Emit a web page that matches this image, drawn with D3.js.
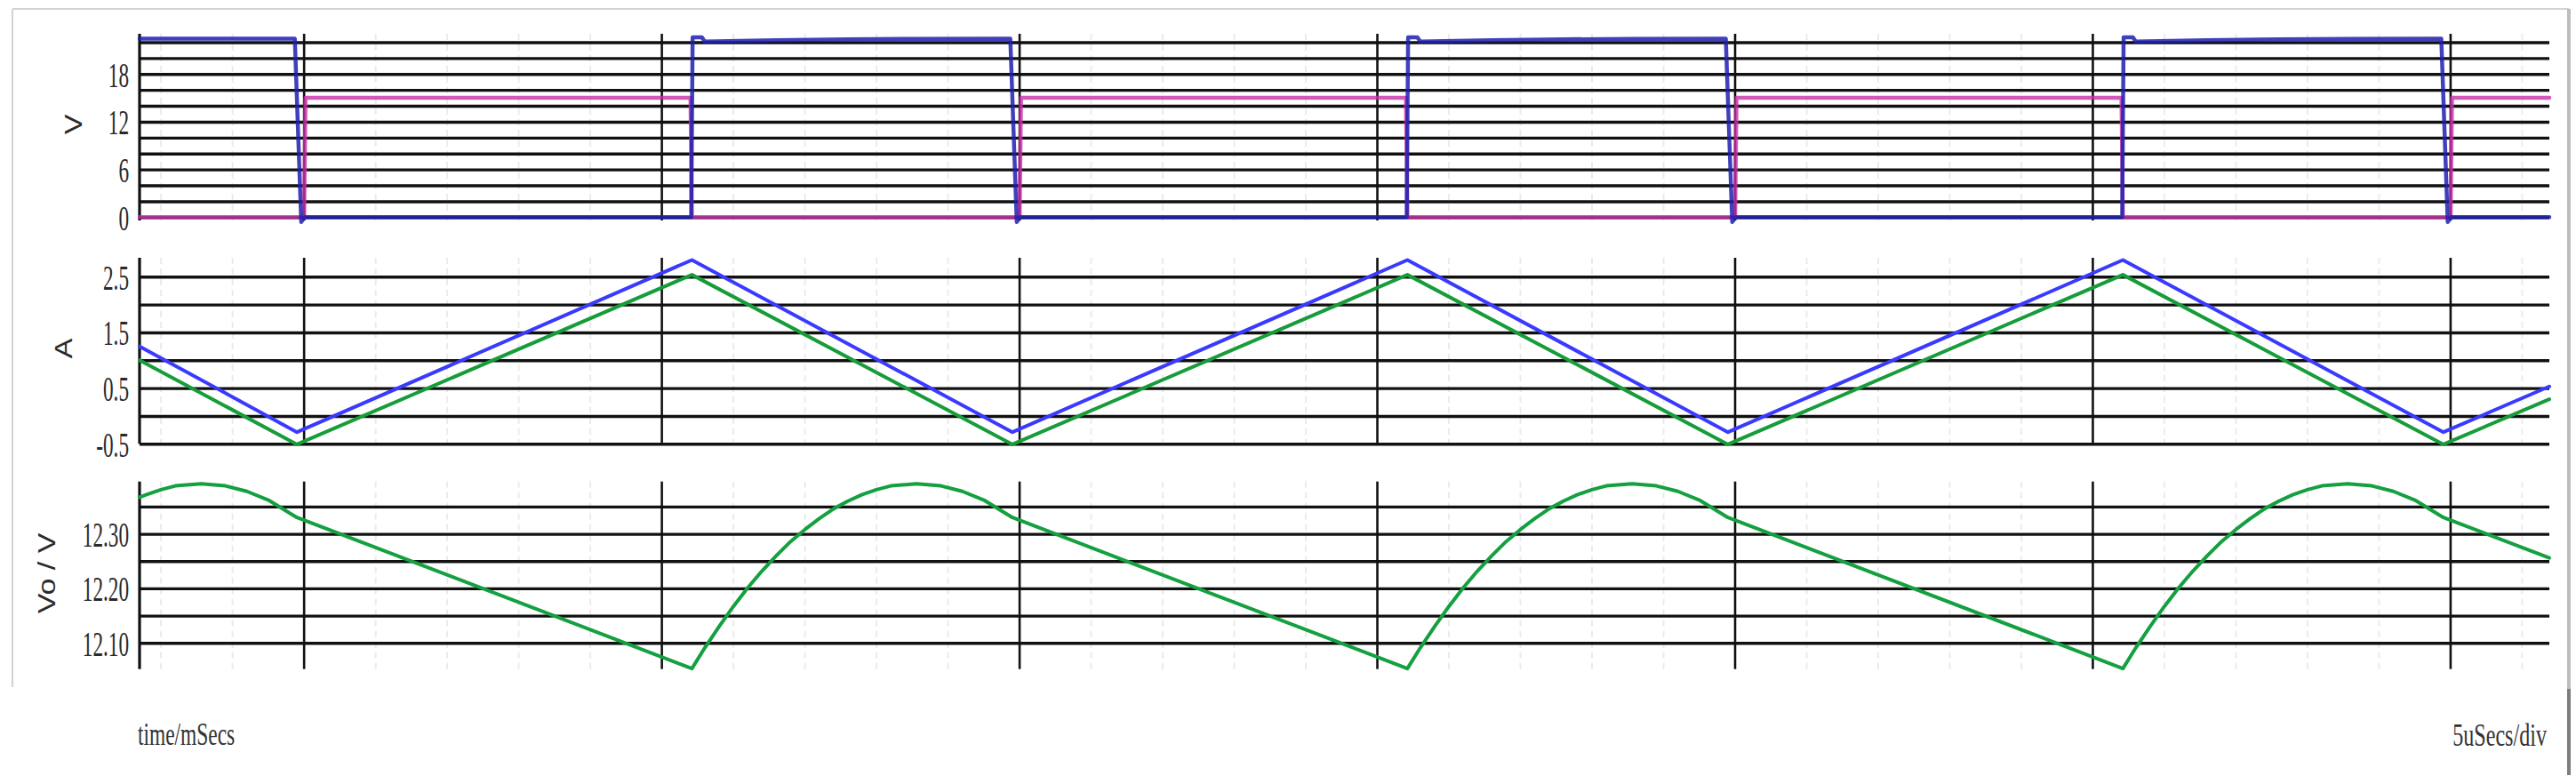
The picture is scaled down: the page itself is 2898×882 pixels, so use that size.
<!DOCTYPE html>
<html><head><meta charset="utf-8">
<script src="https://cdn.jsdelivr.net/npm/d3@7"></script>
<style>html,body{margin:0;padding:0;background:#fff;overflow:hidden} svg{display:block}</style>
</head><body>
<svg id="c" width="2898" height="882"></svg>
<script>
// ---------- data (time in microseconds) ----------
const timeStart = 3.5, timeEnd = 171.9;
const majorTimes = [15, 40, 65, 90, 115, 140, 165];
const minorTimes = [5, 10, 20, 25, 30, 35, 45, 50, 55, 60, 70, 75, 80, 85, 95, 100, 105, 110, 120, 125, 130, 135, 145, 150, 155, 160, 170];

// panel 1: voltages (V)
const vGrid = [0, 2, 4, 6, 8, 10, 12, 14, 16, 18, 20, 22];
const vLabels = [0, 6, 12, 18];
const vSwTime = [3.5, 14.35, 14.8, 15.05,
  42.05, 42.15, 42.8, 43.0, 48, 53, 58, 64.35, 64.8, 65.05,
  92.05, 92.15, 92.8, 93.0, 98, 103, 108, 114.35, 114.8, 115.05,
  142.05, 142.15, 142.8, 143.0, 148, 153, 158, 164.35, 164.8, 165.05,
  171.9];
const vSwValue = [22.45, 22.45, -0.6, 0,
  0, 22.6, 22.6, 22.08, 22.25, 22.36, 22.42, 22.45, -0.6, 0,
  0, 22.6, 22.6, 22.08, 22.25, 22.36, 22.42, 22.45, -0.6, 0,
  0, 22.6, 22.6, 22.08, 22.25, 22.36, 22.42, 22.45, -0.6, 0,
  0];
const vDTime = [3.5, 15.0, 15.1, 42.0, 42.1, 65.0, 65.1, 92.0, 92.1, 115.0, 115.1, 142.0, 142.1, 165.0, 165.1, 171.9];
const vDValue = [0, 0, 15.0, 15.0, 0, 0, 15.0, 15.0, 0, 0, 15.0, 15.0, 0, 0, 15.0, 15.0];

// panel 2: currents (A)
const iGrid = [-0.5, 0, 0.5, 1, 1.5, 2, 2.5];
const iLabels = [-0.5, 0.5, 1.5, 2.5];
const iTime = [3.5, 14.5, 42.1, 64.5, 92.1, 114.5, 142.1, 164.5, 171.9];
const iBlue = [1.25, -0.29, 2.80, -0.29, 2.80, -0.29, 2.80, -0.29, 0.53];
const iGreen = [1.0, -0.51, 2.535, -0.51, 2.535, -0.51, 2.535, -0.51, 0.30];

// panel 3: output voltage (V)
const voGrid = [12.10, 12.15, 12.20, 12.25, 12.30, 12.35];
const voLabels = [12.10, 12.20, 12.30];
const voTime = [3.5, 4, 5, 6, 7.8, 9.5, 11, 12.5, 14.5,
  42.1, 43, 44, 45, 46, 47, 48, 49, 50, 51, 52, 53, 54, 55, 56, 57.8, 59.5, 61, 62.5, 64.5,
  92.1, 93, 94, 95, 96, 97, 98, 99, 100, 101, 102, 103, 104, 105, 106, 107.8, 109.5, 111, 112.5, 114.5,
  142.1, 143, 144, 145, 146, 147, 148, 149, 150, 151, 152, 153, 154, 155, 156, 157.8, 159.5, 161, 162.5, 164.5,
  171.9];
const voValue = [12.367, 12.372, 12.381, 12.388, 12.392, 12.388, 12.378, 12.362, 12.330,
  12.053, 12.091, 12.130, 12.167, 12.201, 12.232, 12.260, 12.286, 12.308, 12.328, 12.346, 12.360, 12.372, 12.381, 12.388, 12.392, 12.388, 12.378, 12.362, 12.330,
  12.053, 12.091, 12.130, 12.167, 12.201, 12.232, 12.260, 12.286, 12.308, 12.328, 12.346, 12.360, 12.372, 12.381, 12.388, 12.392, 12.388, 12.378, 12.362, 12.330,
  12.053, 12.091, 12.130, 12.167, 12.201, 12.232, 12.260, 12.286, 12.308, 12.328, 12.346, 12.360, 12.372, 12.381, 12.388, 12.392, 12.388, 12.378, 12.362, 12.330,
  12.256];

const xLabelLeft = "time/mSecs";
const xLabelRight = "5uSecs/div";

// ---------- layout ----------
const svg = d3.select("#c");
const X0 = 157, X1 = 2868;
const x = d3.scaleLinear().domain([timeStart, timeEnd]).range([X0, X1]);

// frame
svg.append("line").attr("x1", 14).attr("x2", 2890).attr("y1", 10).attr("y2", 10).attr("stroke", "#d2d2d2").attr("stroke-width", 2);
svg.append("line").attr("x1", 14).attr("x2", 14).attr("y1", 10).attr("y2", 773).attr("stroke", "#d2d2d2").attr("stroke-width", 2);
svg.append("line").attr("x1", 2890).attr("x2", 2890).attr("y1", 10).attr("y2", 775).attr("stroke", "#bdbdbd").attr("stroke-width", 4);
svg.append("line").attr("x1", 2890).attr("x2", 2890).attr("y1", 775).attr("y2", 872).attr("stroke", "#7d7d7d").attr("stroke-width", 4);

const panels = [
  { top: 38, bottom: 248, domain: [-0.41, 23.06], grid: vGrid, labels: vLabels, fmt: d => d3.format("d")(d),
    title: "V", tx: 82, ty: 140 },
  { top: 290, bottom: 499.3, domain: [-0.5, 2.84], grid: iGrid, labels: iLabels, fmt: d => (d < 0 ? "-" : "") + d3.format(".1f")(Math.abs(d)),
    title: "A", tx: 71, ty: 392 },
  { top: 541.7, bottom: 752.7, domain: [12.052, 12.396], grid: voGrid, labels: voLabels, fmt: d => d3.format(".2f")(d),
    title: "Vo / V", tx: 52, ty: 645 }
];

panels.forEach(p => {
  p.y = d3.scaleLinear().domain(p.domain).range([p.bottom, p.top]);
  const g = svg.append("g");
  // minor dashed vertical grid
  g.selectAll("line.minor").data(minorTimes).join("line").attr("class", "minor")
    .attr("x1", d => x(d)).attr("x2", d => x(d)).attr("y1", p.top).attr("y2", p.bottom)
    .attr("stroke", "#ebebeb").attr("stroke-width", 2).attr("stroke-dasharray", "7 5");
  // horizontal grid via axis
  const ga = g.append("g").attr("transform", `translate(${X0},0)`)
    .call(d3.axisLeft(p.y).tickValues(p.grid).tickSize(-(X1 - X0)).tickFormat(""));
  ga.select(".domain").remove();
  ga.selectAll(".tick line").attr("stroke", "#111").attr("stroke-width", 3.4);
  // major vertical lines
  g.selectAll("line.major").data(majorTimes).join("line").attr("class", "major")
    .attr("x1", d => x(d)).attr("x2", d => x(d)).attr("y1", p.top).attr("y2", p.bottom)
    .attr("stroke", "#111").attr("stroke-width", 2.6);
  // left axis line
  g.append("line").attr("x1", X0).attr("x2", X0).attr("y1", p.top).attr("y2", p.bottom)
    .attr("stroke", "#111").attr("stroke-width", 3.2);
  // tick labels
  g.selectAll("text.tl").data(p.labels).join("text").attr("class", "tl")
    .attr("transform", d => `translate(145,${p.y(d)}) scale(0.58,1)`)
    .attr("text-anchor", "end").attr("dy", "0.36em")
    .style("font-family", "'Liberation Serif', 'DejaVu Serif', serif").style("font-size", "40px")
    .attr("fill", "#2a2a2a").text(p.fmt);
  // axis title
  g.append("text").attr("transform", `translate(${p.tx},${p.ty}) scale(0.82,1) rotate(-90)`)
    .attr("text-anchor", "middle").attr("dy", "0.35em")
    .style("font-family", "'Liberation Sans', Arial, sans-serif").style("font-size", "34px")
    .attr("fill", "#2a2a2a").text(p.title);
});

function drawTrace(p, times, values, color, width, opacity) {
  const line = d3.line().x(d => x(d[0])).y(d => p.y(d[1])).curve(d3.curveLinear);
  svg.append("path").datum(d3.zip(times, values)).attr("d", line)
    .attr("fill", "none").attr("stroke", color).attr("stroke-width", width)
    .attr("stroke-opacity", opacity).attr("stroke-linejoin", "round").attr("stroke-linecap", "round");
}

drawTrace(panels[0], vDTime, vDValue, "#c82ea8", 4.5, 0.8);
drawTrace(panels[0], vSwTime, vSwValue, "#1e1eb0", 4.5, 0.85);
drawTrace(panels[1], iTime, iGreen, "#179c3a", 4, 1);
drawTrace(panels[1], iTime, iBlue, "#3a3aff", 4, 1);
drawTrace(panels[2], voTime, voValue, "#14a040", 4, 1);

// bottom labels
svg.append("text").attr("transform", "translate(155,838) scale(0.65,1)")
  .attr("text-anchor", "start")
  .style("font-family", "'Liberation Serif', serif").style("font-size", "36px")
  .attr("fill", "#333").text(xLabelLeft);
svg.append("text").attr("transform", "translate(2865,839) scale(0.67,1)")
  .attr("text-anchor", "end")
  .style("font-family", "'Liberation Serif', serif").style("font-size", "36px")
  .attr("fill", "#333").text(xLabelRight);
</script>
</body></html>
